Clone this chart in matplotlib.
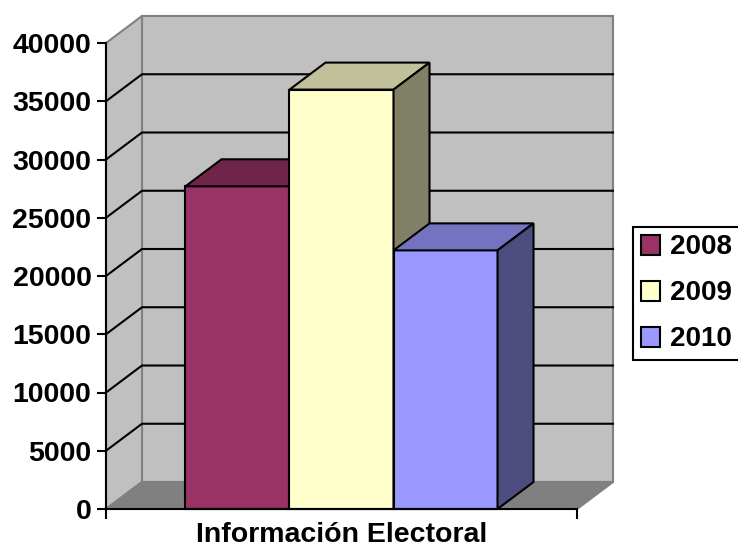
import numpy as np
import matplotlib.pyplot as plt
from matplotlib.patches import Polygon, Patch

# datos
anios = ['2008', '2009', '2010']
valores = [27700, 36000, 22200]
categoria = 'Información Electoral'
yticks = [0, 5000, 10000, 15000, 20000, 25000, 30000, 35000, 40000]

# colores tipo Excel (frente, arriba, lado)
frente = ['#993366', '#FFFFCC', '#9999FF']
arriba = ['#6E2549', '#C0C09A', '#7373C0']
lado = ['#4F1A34', '#808066', '#4D4D80']

plt.rcParams['font.family'] = ['Liberation Sans', 'DejaVu Sans']
plt.rcParams['font.weight'] = 'bold'

fig = plt.figure(figsize=(7.38, 5.52), dpi=100)
ax = fig.add_axes([106/738, 43/552, 471/738, 466/552])
ymax = yticks[-1]
ax.set_xlim(0, 1)
ax.set_ylim(0, ymax)
ax.patch.set_visible(False)

# profundidad 3D
dx = 36/471
dy = 27/466*ymax


def poly(pts, fc, ec='black', lw=1.5, z=1):
    ax.add_patch(Polygon(pts, closed=True, fc=fc, ec=ec, lw=lw, zorder=z,
                         clip_on=False, joinstyle='miter'))


# paredes y piso
poly([(dx, dy), (1+dx, dy), (1+dx, ymax+dy), (dx, ymax+dy)], '#C0C0C0', '#808080', z=0.5)
poly([(0, 0), (dx, dy), (dx, ymax+dy), (0, ymax)], '#C0C0C0', '#808080', z=0.5)
poly([(0, 0), (1, 0), (1+dx, dy), (dx, dy)], '#808080', '#808080', z=0.5)

# lineas de division
for v in yticks[1:-1]:
    ax.plot([0, dx, 1+dx], [v, v+dy, v+dy], color='black', lw=1.5,
            clip_on=False, zorder=0.8)

# barras
n = len(valores)
w = 0.6625/n
x0 = (1 - n*w)/2
for i, h in enumerate(valores):
    xl = x0 + i*w
    xr = xl + w
    z = 2 + i
    poly([(xl, 0), (xr, 0), (xr, h), (xl, h)], frente[i], z=z)
    poly([(xl, h), (xr, h), (xr+dx, h+dy), (xl+dx, h+dy)], arriba[i], z=z)
    poly([(xr, 0), (xr+dx, dy), (xr+dx, h+dy), (xr, h)], lado[i], z=z)

for s in ['top', 'right']:
    ax.spines[s].set_visible(False)
for s in ['left', 'bottom']:
    ax.spines[s].set_linewidth(1.5)
    ax.spines[s].set_zorder(10)

ax.set_yticks(yticks)
ax.set_yticklabels([str(t) for t in yticks])
ax.tick_params(axis='y', direction='out', length=6.5, width=1.5, pad=4, labelsize=20.5)
ax.set_xticks([0, 1])
ax.set_xticklabels(['', ''])
ax.tick_params(axis='x', direction='out', length=7, width=1.5)
ax.set_xlabel(categoria, fontsize=20.5, fontweight='bold', labelpad=-1)

handles = [Patch(fc=frente[i], ec='black', lw=1.5) for i in range(n)]
leg = fig.legend(handles, anios, loc='center left',
                 bbox_to_anchor=(633/738, 1-293.5/552), frameon=True,
                 fancybox=False, edgecolor='black', framealpha=1, fontsize=20,
                 handlelength=0.7, handleheight=0.7, handletextpad=0.35,
                 labelspacing=0.72, borderpad=0.28, borderaxespad=0)
leg.get_frame().set_linewidth(1.5)

fig.savefig('out.png', dpi=100)
